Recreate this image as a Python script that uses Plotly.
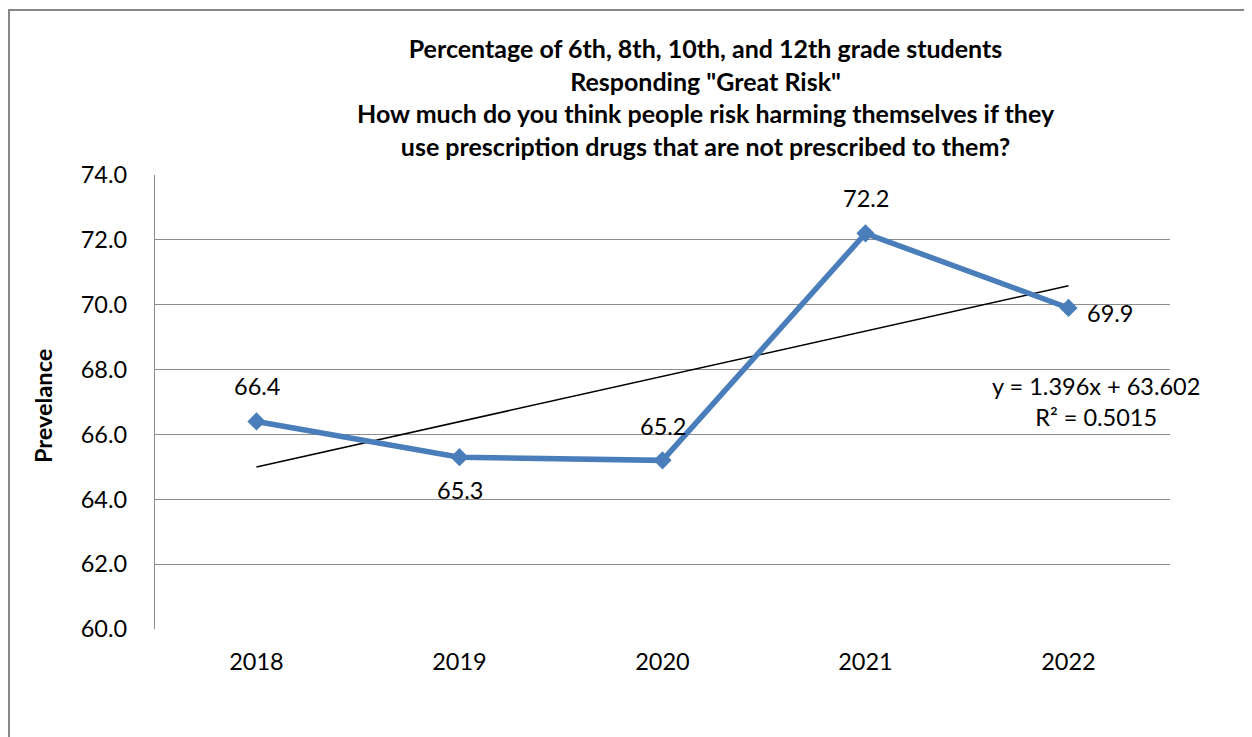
import plotly.graph_objects as go

years = ["2018", "2019", "2020", "2021", "2022"]
prevalence = [66.4, 65.3, 65.2, 72.2, 69.9]
label_shift_x = [0, 0, 0, 0, 41]
label_shift_y = [35, -33, 34, 35, -5]
trend_slope = 1.396
trend_intercept = 63.602
trend_text = "y = 1.396x + 63.602<br>R² = 0.5015"
y_ticks = [60, 62, 64, 66, 68, 70, 72, 74]
title_lines = [
    "Percentage of 6th, 8th, 10th, and 12th grade students",
    "Responding \"Great Risk\"",
    "How much do you think people risk harming themselves if they",
    "use prescription drugs that are not prescribed to them?",
]

FONT = "Lato"
FS = 23.5
OFF = 8  # page body margin offset
W, H = 1252, 737
L, T = 155 - OFF, 175 - OFF
R = W - (1170 - OFF)
B = H - (629 - OFF)
pw, ph = W - L - R, H - T - B

trend_y = [trend_intercept + trend_slope * (i + 1) for i in range(len(years))]

fig = go.Figure()
fig.add_trace(go.Scatter(
    x=years, y=trend_y, mode="lines",
    line=dict(color="black", width=1.5), hoverinfo="skip", showlegend=False,
))
fig.add_trace(go.Scatter(
    x=years, y=prevalence, mode="lines+markers",
    line=dict(color="#4A7EBB", width=5.5),
    marker=dict(symbol="diamond", size=14, color="#4A7EBB"),
    showlegend=False,
))

for i, (v, dx, dy) in enumerate(zip(prevalence, label_shift_x, label_shift_y)):
    fig.add_annotation(x=i, y=v, xref="x", yref="y", text=f"{v:.1f}",
                       showarrow=False, xshift=dx, yshift=dy,
                       font=dict(family=FONT, size=FS, color="black"))

def px_x(p):
    return (p - OFF - L) / pw

def px_y(p):
    return (H - B - (p - OFF)) / ph

fig.add_shape(type="rect", xref="paper", yref="paper",
              x0=px_x(9), x1=px_x(1400), y0=px_y(10), y1=px_y(900),
              line=dict(color="#868686", width=2), fillcolor="rgba(0,0,0,0)", layer="below")

fig.add_annotation(xref="paper", yref="paper", x=px_x(706), y=px_y(97),
                   text="<b>" + "<br>".join(title_lines) + "</b>",
                   showarrow=False, align="center", xanchor="center", yanchor="middle",
                   font=dict(family=FONT, size=25, color="black"))

fig.add_annotation(xref="paper", yref="paper", x=px_x(1096), y=px_y(401),
                   text=trend_text, showarrow=False, align="center",
                   xanchor="center", yanchor="middle",
                   font=dict(family=FONT, size=FS, color="black"))

fig.add_annotation(xref="paper", yref="paper", x=px_x(43), y=px_y(406),
                   text="<b>Prevelance</b>", showarrow=False, textangle=-90,
                   xanchor="center", yanchor="middle",
                   font=dict(family=FONT, size=FS, color="black"))

fig.update_layout(
    width=W, height=H,
    margin=dict(l=L, r=R, t=T, b=B, pad=0),
    paper_bgcolor="white", plot_bgcolor="white",
    font=dict(family=FONT, size=FS, color="black"),
    xaxis=dict(type="category", range=[-0.5, 4.5], showgrid=False,
               showline=False, ticks="", ticklabelstandoff=16,
               tickfont=dict(family=FONT, size=FS, color="black")),
    yaxis=dict(range=[60, 74], tickvals=y_ticks,
               ticktext=[f"{v:.1f}" for v in y_ticks],
               showgrid=True, gridcolor="#8C8C8C", gridwidth=1.3,
               showline=True, linecolor="#8C8C8C", linewidth=1.3,
               zeroline=False, ticks="", ticklabelstandoff=22,
               tickfont=dict(family=FONT, size=FS, color="black")),
)

fig.write_html("out.html", post_script="document.body.style.overflow='hidden';")
